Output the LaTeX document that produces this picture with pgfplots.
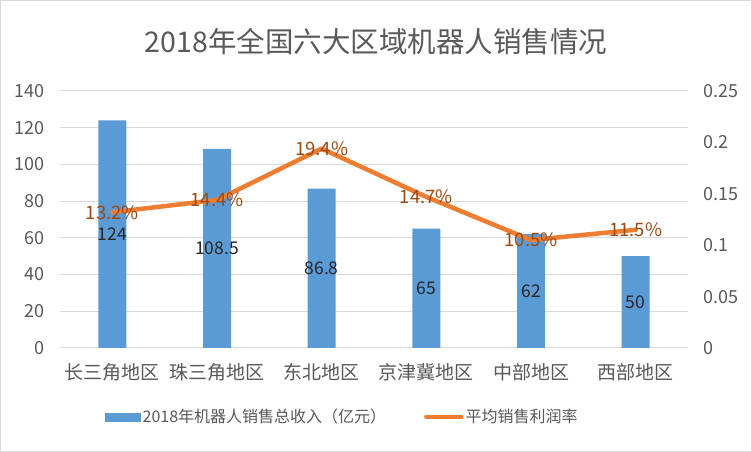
\documentclass[border=0pt]{standalone}
\usepackage{fontspec}
\setmainfont{Noto Sans CJK SC}
\usepackage{pgfplots}
\pgfplotsset{compat=1.18}
\definecolor{barblue}{HTML}{5B9BD5}
\definecolor{lineorange}{HTML}{ED7D31}
\definecolor{lblbrown}{HTML}{9A4A14}
\definecolor{txtgray}{HTML}{595959}
\definecolor{gridgray}{HTML}{D9D9D9}
\begin{document}
\begin{tikzpicture}[x=1pt,y=1pt]
\fill[white] (0,0) rectangle (752,452);
\draw[gridgray, line width=1pt] (0.5,0.5) rectangle (751.5,451.5);
\useasboundingbox (0,0) rectangle (752,452);
\node[txtgray, font=\fontsize{28.5}{34}\selectfont] at (376,410) {2018年全国六大区域机器人销售情况};
\begin{axis}[
  at={(60pt,104pt)}, anchor=south west,
  scale only axis, width=628pt, height=257pt,
  xmin=-0.5, xmax=5.5, ymin=0, ymax=140,
  ytick={0,20,40,60,80,100,120,140},
  xtick={0,1,2,3,4,5},
  xticklabels={长三角地区,珠三角地区,东北地区,京津冀地区,中部地区,西部地区},
  axis line style={draw=none}, major tick style={draw=none},
  ymajorgrids, grid style={gridgray, line width=1pt},
  tick label style={text=txtgray, font=\fontsize{18}{21}\selectfont},
  xticklabel style={font=\fontsize{19}{22}\selectfont},
  /pgf/number format/assume math mode=true,
  yticklabel style={anchor=east, inner sep=0pt, xshift=-15pt},
  xticklabel style={anchor=center, inner sep=0pt, yshift=-24pt},
]
\addplot[ybar, bar width=28pt, fill=barblue, draw=none] coordinates {(0,124) (1,108.5) (2,86.8) (3,65) (4,62) (5,50)};
\addplot[draw=none, mark=none, nodes near coords, point meta=explicit symbolic,
  every node near coord/.style={anchor=center, inner sep=0pt, text=black!85, font=\fontsize{17.5}{20}\selectfont}]
  coordinates {(0,62)[124] (1,54.25)[108.5] (2,43.4)[86.8] (3,32.5)[65] (4,31)[62] (5,25)[50]};
\end{axis}
\begin{axis}[
  at={(60pt,104pt)}, anchor=south west,
  scale only axis, width=628pt, height=257pt,
  xmin=-0.5, xmax=5.5, ymin=0, ymax=0.25,
  hide x axis,
  axis y line*=right,
  ytick={0,0.05,0.1,0.15,0.2,0.25},
  yticklabels={0,0.05,0.1,0.15,0.2,0.25},
  axis line style={draw=none}, major tick style={draw=none},
  tick label style={text=txtgray, font=\fontsize{18}{21}\selectfont},
  /pgf/number format/assume math mode=true,
  yticklabel style={anchor=west, inner sep=0pt, xshift=15pt},
  legend style={at={(0.0717,-0.268)}, anchor=west, draw=none, fill=none,
    font=\fontsize{16}{19}\selectfont, text=txtgray, inner sep=0pt,
    /tikz/every even column/.append style={column sep=36pt},
    nodes={inner sep=2pt}},
  legend columns=2, legend cell align=left,
]
\addlegendimage{legend image code/.code={\fill[barblue] (0pt,-4pt) rectangle (35pt,4pt);}}
\addlegendentry{2018年机器人销售总收入（亿元）}
\addplot[lineorange, line width=4.5pt, line join=round, line cap=round, mark=none,
  nodes near coords, point meta=explicit symbolic,
  every node near coord/.style={anchor=center, inner sep=0pt, text=lblbrown, font=\fontsize{18.5}{21}\selectfont},
  legend image code/.code={\draw[lineorange, line width=4.5pt, line cap=round] (2pt,0pt) -- (37pt,0pt);}]
  coordinates {(0,0.132)[13.2\%] (1,0.144)[14.4\%] (2,0.194)[19.4\%] (3,0.147)[14.7\%] (4,0.105)[10.5\%] (5,0.115)[11.5\%]};
\addlegendentry{平均销售利润率}
\end{axis}
\end{tikzpicture}
\end{document}
